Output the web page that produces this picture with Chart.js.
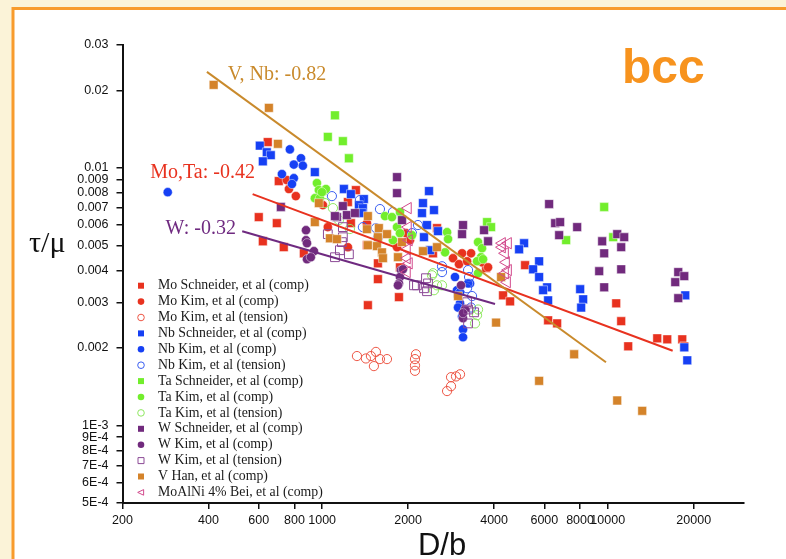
<!DOCTYPE html>
<html>
<head>
<meta charset="utf-8">
<script src="https://cdn.jsdelivr.net/npm/chart.js@4.4.1/dist/chart.umd.min.js"></script>
<style>
  html, body { margin: 0; padding: 0; background: #fbf3d8; }
  #wrap { width: 786px; height: 559px; }
</style>
</head>
<body>
<div id="wrap"><canvas id="chart" width="786" height="559"></canvas></div>
<script>
// axis ticks
const xTicks = [200, 400, 600, 800, 1000, 2000, 4000, 6000, 8000, 10000, 20000];
const xTickLabels = ["200", "400", "600", "800", "1000", "2000", "4000", "6000", "8000", "10000", "20000"];
const yTicks = [0.03, 0.02, 0.01, 0.009, 0.008, 0.007, 0.006, 0.005, 0.004, 0.003, 0.002, 0.001, 0.0009, 0.0008, 0.0007, 0.0006, 0.0005];
const yTickLabels = ["0.03", "0.02", "0.01", "0.009", "0.008", "0.007", "0.006", "0.005", "0.004", "0.003", "0.002", "1E-3", "9E-4", "8E-4", "7E-4", "6E-4", "5E-4"];

// data, [D/b, tau/mu]
const moSchneider = [[645,0.0126],[705,0.00889],[600,0.00644],[694,0.0061],[620,0.00519],[734,0.00492],[863,0.00466],[1313,0.0082],[1231,0.00737],[1261,0.0061],[1435,0.00501],[1568,0.00426],[1568,0.0037],[1446,0.00293],[1858,0.00315],[1873,0.00411],[2525,0.00584],[2444,0.00466],[3750,0.00408],[5136,0.00419],[4301,0.0032],[4551,0.00303],[6184,0.00256],[6651,0.00249],[10707,0.00298],[11147,0.00254],[11795,0.00203],[14906,0.00218],[16159,0.00216],[18238,0.00216],[18534,0.00203]];
const moKimComp = [[752,0.00897],[765,0.00828],[809,0.00777],[1006,0.00717],[1047,0.00589],[1231,0.00492],[1435,0.0061],[1829,0.00492],[1966,0.00558],[2030,0.00524],[2873,0.00446],[3015,0.00423],[3090,0.00466],[3322,0.00466],[3217,0.00434],[3630,0.0043],[3810,0.00411]];
const moKimTension = [[1324,0.00186],[1423,0.00182],[1482,0.00186],[1543,0.00193],[1594,0.00181],[1687,0.00181],[1518,0.0017],[2131,0.00189],[2114,0.00181],[2114,0.00171],[2114,0.00163],[2827,0.00154],[2943,0.00155],[3040,0.00158],[2738,0.00136],[2827,0.00142]];
const nbSchneider = [[605,0.0122],[640,0.0115],[661,0.0112],[620,0.0106],[943,0.00963],[1192,0.00828],[1261,0.00791],[1400,0.00757],[1345,0.00717],[1389,0.00698],[1378,0.00668],[2367,0.00813],[2255,0.0073],[2464,0.00686],[2237,0.00668],[2329,0.006],[2545,0.00568],[2273,0.00538],[2386,0.00479],[5095,0.0051],[4894,0.00483],[5751,0.00434],[5479,0.00404],[5751,0.00377],[6134,0.00344],[5939,0.00335],[6184,0.00306],[8007,0.00338],[8203,0.00309],[8072,0.00287],[18685,0.0032],[18534,0.00201],[18990,0.00179]];
const nbKimComp = [[288,0.00805],[771,0.0118],[843,0.0109],[796,0.0103],[856,0.0102],[723,0.00946],[796,0.00912],[784,0.00866],[2919,0.00377],[2967,0.00335],[2991,0.00318],[3040,0.00298],[3090,0.00265],[3114,0.00236],[3114,0.0022],[3295,0.00356],[2991,0.00287],[3243,0.00356],[3040,0.00329]];
const nbKimTension = [[1082,0.00777],[1356,0.0075],[1594,0.00692],[1770,0.00674],[1389,0.00589],[1543,0.00584],[1568,0.00538],[2165,0.006],[2063,0.00558],[2629,0.00394],[2629,0.00415],[3243,0.00401],[3217,0.00341],[3349,0.00318],[3322,0.00287],[3269,0.00377]];
const taSchneider = [[1109,0.016],[1047,0.0132],[1182,0.0127],[1241,0.0109],[3780,0.00616],[3904,0.00589],[7152,0.00524],[9718,0.00705],[10450,0.00538]];
const taKimComp = [[959,0.00873],[974,0.0082],[1014,0.00813],[1031,0.00828],[943,0.00763],[982,0.00763],[998,0.00805],[1660,0.0065],[1756,0.00644],[1873,0.00674],[1829,0.00589],[1873,0.00558],[1770,0.00524],[2063,0.00548],[2738,0.00563],[2760,0.00529],[2694,0.0047],[3515,0.00515],[3630,0.00488],[3601,0.0045],[3487,0.00434],[3515,0.0039],[3660,0.00442]];
const taKimTension = [[1091,0.00698],[1022,0.0073],[1145,0.00627],[1251,0.00579],[2444,0.0039],[2525,0.0035],[2629,0.0035],[2464,0.00335],[3487,0.00268],[3515,0.00282],[3431,0.00249],[2425,0.00383]];
const wSchneider = [[717,0.00705],[1127,0.00644],[1182,0.00711],[1221,0.00656],[1303,0.00668],[1109,0.0065],[1829,0.00921],[1829,0.00798],[1904,0.00627],[3114,0.006],[3090,0.00553],[3689,0.00573],[3810,0.00519],[6234,0.00724],[6544,0.0061],[6813,0.00616],[6759,0.00548],[7816,0.00589],[9562,0.00519],[9718,0.00466],[9335,0.00397],[10794,0.00553],[11420,0.00538],[11147,0.00492],[11147,0.00404],[9718,0.00344],[17657,0.00394],[18534,0.0038],[17235,0.0036],[17657,0.00312]];
const wKimComp = [[878,0.00573],[878,0.00524],[885,0.0051],[936,0.00475],[885,0.00442],[913,0.0045],[1888,0.00401],[1873,0.00377],[1858,0.00356],[1919,0.00404],[1843,0.0035],[3065,0.0035],[3165,0.00282],[3114,0.00261],[3114,0.00273]];
const wKimTension = [[1047,0.00553],[1182,0.00589],[1182,0.00538],[1173,0.00515],[1154,0.00479],[1241,0.00462],[1109,0.0045],[2310,0.00373],[2348,0.00356],[2148,0.0035],[2097,0.0035],[2329,0.00332],[2273,0.00341],[3217,0.00301],[3243,0.00282],[3403,0.00275],[3243,0.00249]];
const vHan = [[417,0.021],[651,0.0171],[700,0.0124],[943,0.00616],[974,0.0073],[1065,0.00533],[1127,0.00529],[1446,0.0065],[1435,0.00578],[1580,0.00584],[1687,0.00553],[1568,0.00538],[1446,0.00501],[1556,0.00497],[1620,0.0047],[1633,0.00446],[1843,0.0045],[1904,0.00515],[2255,0.00475],[2525,0.00492],[2991,0.00318],[4232,0.00377],[4065,0.00251],[7628,0.00189],[5751,0.00149],[10794,0.00125],[13206,0.00114]];
const moAlNiBei = [[1998,0.00698],[1998,0.00589],[2014,0.00524],[1982,0.00483],[1982,0.00446],[1982,0.00394],[2014,0.00426],[4266,0.0051],[4478,0.0051],[4371,0.00466],[4407,0.0043],[4478,0.00401],[4371,0.0039],[4442,0.0036],[4266,0.00492]];

// power-law fit lines (end points)
const fitVNb = [[395,0.0236],[9860,0.00176]];
const fitMoTa = [[571,0.00791],[16880,0.00195]];
const fitW = [[525,0.00568],[4030,0.00296]];
const fitLabels = ["V, Nb: -0.82", "Mo,Ta: -0.42", "W: -0.32"];
const fitLabelAt = [[467,0.0229],[250,0.00954],[283,0.00579]];

const series = [
  { label: "Mo Schneider, et al (comp)", data: moSchneider, color: "#e8321f", shape: "rect", hollow: false },
  { label: "Mo Kim, et al (comp)", data: moKimComp, color: "#e8321f", shape: "circle", hollow: false },
  { label: "Mo Kim, et al (tension)", data: moKimTension, color: "#ee5645", shape: "circle", hollow: true },
  { label: "Nb Schneider, et al (comp)", data: nbSchneider, color: "#1640f4", shape: "rect", hollow: false },
  { label: "Nb Kim, et al (comp)", data: nbKimComp, color: "#1640f4", shape: "circle", hollow: false },
  { label: "Nb Kim, et al (tension)", data: nbKimTension, color: "#3a5ef2", shape: "circle", hollow: true },
  { label: "Ta Schneider, et al (comp)", data: taSchneider, color: "#72ee2c", shape: "rect", hollow: false },
  { label: "Ta Kim, et al (comp)", data: taKimComp, color: "#72ee2c", shape: "circle", hollow: false },
  { label: "Ta Kim, et al (tension)", data: taKimTension, color: "#8fe860", shape: "circle", hollow: true },
  { label: "W Schneider, et al (comp)", data: wSchneider, color: "#712a7d", shape: "rect", hollow: false },
  { label: "W Kim, et al (comp)", data: wKimComp, color: "#712a7d", shape: "circle", hollow: false },
  { label: "W Kim, et al (tension)", data: wKimTension, color: "#8c4a96", shape: "rect", hollow: true },
  { label: "V Han, et al (comp)", data: vHan, color: "#d4832a", shape: "rect", hollow: false },
  { label: "MoAlNi 4% Bei, et al (comp)", data: moAlNiBei, color: "#d2498c", shape: "triangle", hollow: true }
];
const fits = [
  { data: fitVNb, color: "#c98a2c" },
  { data: fitMoTa, color: "#e8321f" },
  { data: fitW, color: "#6f2a80" }
];

function toPoints(arr) {
  return arr.map(p => ({ x: p[0], y: p[1] }));
}

const datasets = series.map((s, i) => ({
  label: s.label,
  data: toPoints(s.data),
  pointStyle: s.shape,
  rotation: s.shape === "triangle" ? -90 : 0,
  pointRadius: s.shape === "rect" ? 6.2 : (s.shape === "triangle" ? 6.5 : 4.6),
  backgroundColor: s.hollow ? "rgba(255,255,255,0)" : s.color,
  borderColor: s.hollow ? s.color : "rgba(255,255,255,0.45)",
  borderWidth: 1,
  showLine: false,
  order: 100 - i
}));

fits.forEach(f => {
  datasets.push({
    data: toPoints(f.data),
    showLine: true,
    borderColor: f.color,
    borderWidth: 2,
    pointRadius: 0,
    order: 0
  });
});

const framePlugin = {
  id: "frame",
  beforeDraw(chart) {
    const ctx = chart.ctx;
    ctx.save();
    ctx.fillStyle = "#fbf3d8";
    ctx.fillRect(0, 0, chart.width, chart.height);
    ctx.fillStyle = "#ffffff";
    ctx.fillRect(13, 9, chart.width, chart.height);
    ctx.strokeStyle = "#f89b2c";
    ctx.lineWidth = 3;
    ctx.beginPath();
    ctx.moveTo(13, chart.height);
    ctx.lineTo(13, 8.5);
    ctx.lineTo(chart.width, 8.5);
    ctx.stroke();
    ctx.restore();
  }
};

function marker(ctx, shape, x, y, r) {
  ctx.beginPath();
  if (shape === "rect") {
    ctx.rect(x - r, y - r, 2 * r, 2 * r);
  } else if (shape === "triangle") {
    ctx.moveTo(x - r, y);
    ctx.lineTo(x + r * 0.8, y - r * 0.85);
    ctx.lineTo(x + r * 0.8, y + r * 0.85);
    ctx.closePath();
  } else {
    ctx.arc(x, y, r, 0, Math.PI * 2);
  }
}

const textPlugin = {
  id: "texts",
  afterDraw(chart) {
    const ctx = chart.ctx;
    const xs = chart.scales.x, ys = chart.scales.y;
    ctx.save();

    // legend inside plot
    ctx.font = '13.8px "Liberation Serif"';
    ctx.textBaseline = "middle";
    ctx.textAlign = "left";
    series.forEach((s, i) => {
      const y = 285.7 + i * 15.9;
      marker(ctx, s.shape, 141, y, s.shape === "rect" ? 3 : 3.3);
      if (s.hollow) {
        ctx.strokeStyle = s.color;
        ctx.lineWidth = 1;
        ctx.stroke();
      } else {
        ctx.fillStyle = s.color;
        ctx.fill();
      }
      ctx.fillStyle = "#1a1a1a";
      ctx.fillText(s.label, 158, y);
    });

    // fit labels
    ctx.font = '20px "Liberation Serif"';
    fitLabels.forEach((t, i) => {
      ctx.fillStyle = fits[i].color;
      ctx.fillText(t, xs.getPixelForValue(fitLabelAt[i][0]), ys.getPixelForValue(fitLabelAt[i][1]));
    });

    // titles
    ctx.fillStyle = "#f7931e";
    ctx.font = 'bold 48px "Liberation Sans"';
    ctx.textBaseline = "alphabetic";
    ctx.fillText("bcc", 622, 83);

    ctx.fillStyle = "#111";
    ctx.font = '30px "Liberation Serif"';
    ctx.fillText("τ/μ", 29, 252);

    ctx.font = '31px "Liberation Sans"';
    ctx.textAlign = "center";
    ctx.fillText("D/b", 442, 555);
    ctx.restore();
  }
};

new Chart(document.getElementById("chart"), {
  type: "scatter",
  data: { datasets: datasets },
  options: {
    responsive: false,
    animation: false,
    layout: { padding: { left: 0, top: 45, right: 42, bottom: 0 } },
    plugins: { legend: { display: false }, tooltip: { enabled: false } },
    scales: {
      x: {
        type: "logarithmic",
        min: 200,
        max: 30000,
        afterFit: s => { s.height = 56; },
        afterBuildTicks: s => { s.ticks = xTicks.map(v => ({ value: v })); },
        grid: { display: true, drawOnChartArea: false, drawTicks: true, tickLength: 6, color: "#111", lineWidth: 1.5 },
        border: { display: true, color: "#111", width: 2 },
        ticks: {
          autoSkip: false, maxRotation: 0, padding: 4, color: "#111",
          font: { family: "Liberation Sans", size: 12.5 },
          callback: v => xTickLabels[xTicks.indexOf(v)] || ""
        }
      },
      y: {
        type: "logarithmic",
        min: 0.0005,
        max: 0.03,
        afterFit: s => { s.width = 122.5; },
        afterBuildTicks: s => { s.ticks = yTicks.slice().reverse().map(v => ({ value: v })); },
        grid: { display: true, drawOnChartArea: false, drawTicks: true, tickLength: 6, color: "#111", lineWidth: 1.5 },
        border: { display: true, color: "#111", width: 2 },
        ticks: {
          autoSkip: false, padding: 8, color: "#111",
          font: { family: "Liberation Sans", size: 12.5 },
          callback: v => yTickLabels[yTicks.indexOf(v)] || ""
        }
      }
    }
  },
  plugins: [framePlugin, textPlugin]
});
</script>
</body>
</html>
